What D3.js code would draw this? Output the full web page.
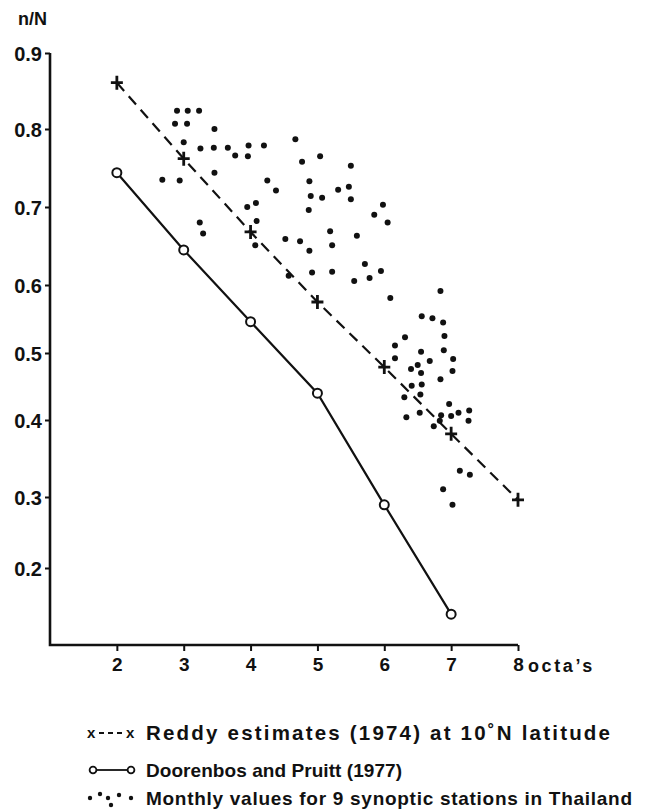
<!DOCTYPE html>
<html>
<head>
<meta charset="utf-8">
<script src="https://d3js.org/d3.v7.min.js"></script>
<style>
    html, body { margin: 0; padding: 0; background: #fff; }
    svg text { font-family: "Liberation Sans", Arial, sans-serif; font-weight: bold; fill: #111; }
</style>
</head>
<body>
<div id="chart"></div>
<script>
// Reddy estimates (1974) at 10 N latitude
const reddyOctas = [2, 3, 4, 5, 6, 7, 8];
const reddyRatio = [0.861, 0.762, 0.668, 0.575, 0.479, 0.382, 0.296];

// Doorenbos and Pruitt (1977)
const doorenbosOctas = [2, 3, 4, 5, 6, 7];
const doorenbosRatio = [0.744, 0.645, 0.546, 0.440, 0.289, 0.135];

// Monthly values for 9 synoptic stations in Thailand
const stationOctas = [
    2.90, 3.06, 3.23, 2.87, 3.05, 3.46, 3.00, 3.25, 3.45, 3.66,
    3.97, 4.20, 3.77, 3.96, 4.67, 4.77, 5.04, 5.50, 2.68, 2.94,
    3.46, 4.25, 4.38, 4.88, 4.90, 5.07, 5.31, 5.47, 5.50, 4.87,
    3.95, 4.08, 4.09, 3.24, 3.29, 4.07, 4.52, 4.74, 4.88, 5.19,
    5.22, 5.59, 5.98, 5.85, 6.05, 5.71, 5.95, 5.78, 5.55, 6.09,
    4.57, 4.92, 5.22, 6.84, 6.56, 6.72, 6.88, 6.90, 6.31, 6.16,
    6.89, 6.16, 6.55, 7.03, 6.50, 6.68, 6.40, 6.55, 7.02, 6.84,
    6.41, 6.56, 6.30, 6.54, 6.97, 7.27, 7.11, 6.85, 7.00, 6.53,
    6.33, 7.26, 6.74, 6.83, 7.13, 7.28, 6.88, 7.02
];
const stationRatio = [
    0.824, 0.824, 0.824, 0.807, 0.807, 0.800, 0.783, 0.775, 0.776, 0.776,
    0.779, 0.779, 0.766, 0.765, 0.787, 0.758, 0.765, 0.753, 0.735, 0.734,
    0.744, 0.734, 0.721, 0.733, 0.714, 0.712, 0.722, 0.726, 0.710, 0.696,
    0.700, 0.705, 0.682, 0.680, 0.666, 0.651, 0.659, 0.656, 0.644, 0.669,
    0.651, 0.663, 0.703, 0.690, 0.680, 0.627, 0.618, 0.609, 0.605, 0.581,
    0.612, 0.616, 0.617, 0.591, 0.554, 0.551, 0.545, 0.525, 0.523, 0.511,
    0.504, 0.492, 0.502, 0.491, 0.482, 0.488, 0.476, 0.470, 0.473, 0.461,
    0.451, 0.453, 0.434, 0.438, 0.424, 0.414, 0.411, 0.407, 0.406, 0.411,
    0.404, 0.399, 0.392, 0.399, 0.334, 0.329, 0.310, 0.289
];

const xTicks = [2, 3, 4, 5, 6, 7, 8];
const yTicks = [0.2, 0.3, 0.4, 0.5, 0.6, 0.7, 0.8, 0.9];

const legendLabels = [
    "Reddy estimates (1974) at 10\u02daN latitude",
    "Doorenbos and Pruitt (1977)",
    "Monthly values for 9 synoptic stations in Thailand"
];

const width = 646;
const height = 811;

const svg = d3.select("#chart")
    .append("svg")
    .attr("width", width)
    .attr("height", height);

// x runs from 1 octa at the corner to 8
const x = d3.scaleLinear()
    .domain([1, 8])
    .range([50, 518]);

// the printed y axis is not quite even, so follow its tick marks
const y = d3.scaleLinear()
    .domain(yTicks)
    .range([568, 497, 420, 353, 285, 207, 129, 53]);

const axisBottomY = 645;

// axes
const yAxis = svg.append("g")
    .attr("transform", `translate(${x(1)},0)`)
    .call(d3.axisLeft(y).tickValues(yTicks).tickSize(5).tickPadding(3).tickFormat(d3.format(".1f")));
yAxis.select(".domain").remove();
yAxis.selectAll("line").attr("stroke", "#111").attr("stroke-width", 2);
yAxis.selectAll("text").style("font-size", "20px").attr("fill", "#111").attr("dy", "0.36em");

const xAxis = svg.append("g")
    .attr("transform", `translate(0,${axisBottomY})`)
    .call(d3.axisBottom(x).tickValues(xTicks).tickSize(6).tickPadding(7).tickFormat(d3.format("d")));
xAxis.select(".domain").remove();
xAxis.selectAll("line").attr("stroke", "#111").attr("stroke-width", 2);
xAxis.selectAll("text").style("font-size", "19px").attr("fill", "#111");

svg.append("path")
    .attr("d", `M${x(1)},${y(0.9)}V${axisBottomY}H${x(8)}`)
    .attr("fill", "none")
    .attr("stroke", "#111")
    .attr("stroke-width", 2.6);

svg.append("text")
    .attr("x", x(8) + 10)
    .attr("y", axisBottomY + 27)
    .style("font-size", "18px")
    .style("letter-spacing", "2.6px")
    .text("octa\u2019s");

svg.append("text")
    .attr("x", 47)
    .attr("y", 25)
    .attr("text-anchor", "end")
    .style("font-size", "18px")
    .text("n/N");

// scatter of station values
svg.selectAll("circle.station")
    .data(stationOctas)
    .enter()
    .append("circle")
    .attr("class", "station")
    .attr("cx", (d) => x(d))
    .attr("cy", (d, i) => y(stationRatio[i]))
    .attr("r", 3)
    .attr("fill", "#111");

// Reddy dashed line with cross markers
const reddyLine = d3.line()
    .x((d) => x(d))
    .y((d, i) => y(reddyRatio[i]));

svg.append("path")
    .attr("d", reddyLine(reddyOctas))
    .attr("fill", "none")
    .attr("stroke", "#111")
    .attr("stroke-width", 2.2)
    .attr("stroke-dasharray", "11,7");

svg.selectAll("path.cross")
    .data(reddyOctas)
    .enter()
    .append("path")
    .attr("class", "cross")
    .attr("d", (d, i) => {
        const cx = x(d), cy = y(reddyRatio[i]);
        return `M${cx - 6},${cy}H${cx + 6}M${cx},${cy - 7}V${cy + 7}`;
    })
    .attr("stroke", "#111")
    .attr("stroke-width", 2.8);

// Doorenbos solid line with open circles
const doorenbosLine = d3.line()
    .x((d) => x(d))
    .y((d, i) => y(doorenbosRatio[i]));

svg.append("path")
    .attr("d", doorenbosLine(doorenbosOctas))
    .attr("fill", "none")
    .attr("stroke", "#111")
    .attr("stroke-width", 2.2);

svg.selectAll("circle.doorenbos")
    .data(doorenbosOctas)
    .enter()
    .append("circle")
    .attr("class", "doorenbos")
    .attr("cx", (d) => x(d))
    .attr("cy", (d, i) => y(doorenbosRatio[i]))
    .attr("r", 4.5)
    .attr("fill", "#fff")
    .attr("stroke", "#111")
    .attr("stroke-width", 2);

// legend
const legend = svg.append("g");
const rowY = [733, 770, 798];
const rowWidth = [464, 256, 486];
const rowFont = [20.5, 19, 19];
const textX = 146;

legend.append("text").attr("x", 87).attr("y", rowY[0] + 5).style("font-size", "15px").text("x");
legend.append("line")
    .attr("x1", 99).attr("x2", 126).attr("y1", rowY[0]).attr("y2", rowY[0])
    .attr("stroke", "#111").attr("stroke-width", 1.8).attr("stroke-dasharray", "5,4");
legend.append("text").attr("x", 126).attr("y", rowY[0] + 5).style("font-size", "15px").text("x");

legend.append("line")
    .attr("x1", 96).attr("x2", 128).attr("y1", rowY[1]).attr("y2", rowY[1])
    .attr("stroke", "#111").attr("stroke-width", 1.8);
[93, 131].forEach((cx) => {
    legend.append("circle").attr("cx", cx).attr("cy", rowY[1]).attr("r", 3.4)
        .attr("fill", "#fff").attr("stroke", "#111").attr("stroke-width", 1.8);
});

[[90, 0], [100, -4], [108, 0], [111, 7], [119, -3], [131, 0]].forEach(([cx, dy]) => {
    legend.append("circle").attr("cx", cx).attr("cy", rowY[2] + dy).attr("r", 2.2).attr("fill", "#111");
});

legend.selectAll("text.label")
    .data(legendLabels)
    .enter()
    .append("text")
    .attr("class", "label")
    .attr("x", textX)
    .attr("y", (d, i) => rowY[i] + 7)
    .attr("textLength", (d, i) => rowWidth[i])
    .attr("lengthAdjust", "spacing")
    .style("font-size", (d, i) => `${rowFont[i]}px`)
    .text((d) => d);
</script>
</body>
</html>
